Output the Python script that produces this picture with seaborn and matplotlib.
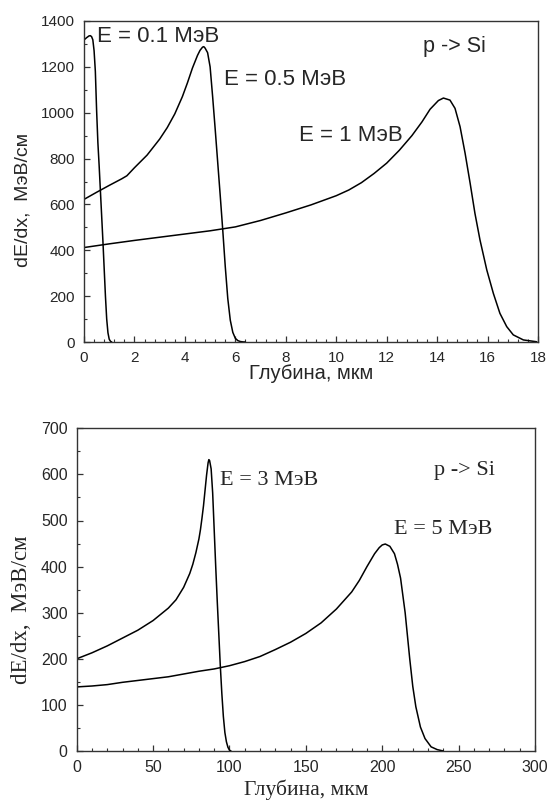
import numpy as np
import pandas as pd
import seaborn as sns
import matplotlib.pyplot as plt
from matplotlib.ticker import MultipleLocator

# top panel: depth (um) vs stopping power (MeV/cm)
x_01 = [0, 0.05, 0.1, 0.15, 0.2, 0.25, 0.3, 0.35, 0.4, 0.45, 0.5, 0.55, 0.6, 0.65,
        0.7, 0.75, 0.8, 0.85, 0.9, 0.95, 1.0, 1.05, 1.1]
y_01 = [1318, 1322, 1327, 1331, 1335, 1336, 1332, 1318, 1270, 1180, 1010, 870, 770, 660,
        550, 440, 320, 200, 100, 40, 12, 3, 0]

x_05 = [0, 0.5, 1.0, 1.5, 1.7, 2.0, 2.5, 3.0, 3.3, 3.6, 3.9, 4.1, 4.3, 4.5, 4.6, 4.7,
        4.75, 4.8, 4.9, 5.0, 5.1, 5.2, 5.3, 5.4, 5.5, 5.6, 5.7, 5.8, 5.9, 6.0, 6.1, 6.2,
        6.3, 6.4]
y_05 = [622, 653, 683, 712, 725, 760, 815, 885, 935, 995, 1070, 1130, 1195, 1250, 1272,
        1286, 1288, 1282, 1262, 1200, 1070, 930, 785, 640, 490, 330, 190, 95, 42, 16, 6,
        2, 0.5, 0]

x_1 = [0, 1, 2, 3, 4, 5, 6, 7, 8, 9, 10, 10.5, 11, 11.5, 12, 12.5, 13, 13.4, 13.72,
       14.05, 14.25, 14.51, 14.71, 14.91, 15.11, 15.31, 15.5, 15.7, 15.97, 16.23, 16.49,
       16.76, 17.02, 17.42, 17.95]
y_1 = [412, 428, 443, 457, 471, 485, 502, 530, 563, 598, 638, 663, 695, 735, 780, 836,
       900, 960, 1015, 1053, 1064, 1055, 1019, 939, 823, 692, 561, 445, 314, 212, 125,
       67, 31, 9, 1]

# bottom panel
x_3 = [0, 10, 20, 30, 40, 50, 60, 65, 70, 72, 74, 76, 78, 80, 81, 82, 83, 84, 85, 86,
       86.5, 87, 88, 89, 90, 91, 92, 93, 94, 95, 96, 97, 98, 99, 100, 101]
y_3 = [200, 213, 228, 245, 262, 283, 310, 328, 355, 370, 385, 405, 430, 460, 480, 505,
       532, 565, 598, 625, 632, 630, 612, 560, 480, 400, 325, 255, 185, 125, 75, 40, 20,
       8, 2, 0]

x_5 = [0, 10, 20, 30, 40, 50, 60, 70, 80, 90, 100, 110, 120, 130, 140, 150, 160, 170,
       180, 185, 190, 195, 198, 200, 202, 205, 208, 210, 212, 215, 218, 220, 222, 225,
       228, 232, 236, 240]
y_5 = [139, 141, 144, 149, 153, 157, 161, 167, 173, 178, 185, 194, 205, 220, 236, 255,
       278, 308, 345, 370, 400, 428, 441, 447, 449, 444, 428, 405, 375, 300, 200, 140,
       96, 52, 27, 9, 3, 0]

top_labels = ["E = 0.1 МэВ", "E = 0.5 МэВ", "E = 1 МэВ"]
bottom_labels = ["E = 3 МэВ", "E = 5 МэВ"]

sns.set_style("ticks")
plt.rcParams['font.family'] = ['Liberation Sans', 'DejaVu Sans']
plt.rcParams['xtick.direction'] = 'in'
plt.rcParams['ytick.direction'] = 'in'

fig = plt.figure(figsize=(5.48, 8.07), dpi=100)
ax1 = fig.add_axes([84 / 548, (807 - 342) / 807, 454 / 548, 321 / 807])
ax2 = fig.add_axes([76.7 / 548, (807 - 751) / 807, 458.3 / 548, 322.7 / 807])

for xs, ys in [(x_01, y_01), (x_05, y_05), (x_1, y_1)]:
  sns.lineplot(x=xs, y=ys, ax=ax1, color='black', linewidth=1.1)
for xs, ys in [(x_3, y_3), (x_5, y_5)]:
  sns.lineplot(x=xs, y=ys, ax=ax2, color='black', linewidth=1.1)

serif = ['Liberation Serif', 'DejaVu Serif']

# top axes
ax1.set_xlim(0, 18)
ax1.set_ylim(0, 1400)
ax1.xaxis.set_major_locator(MultipleLocator(2))
ax1.xaxis.set_minor_locator(MultipleLocator(0.4))
ax1.yaxis.set_major_locator(MultipleLocator(200))
ax1.yaxis.set_minor_locator(MultipleLocator(100))
ax1.text(0.53, 1310, top_labels[0], fontsize=16)
ax1.text(5.55, 1121, top_labels[1], fontsize=16)
ax1.text(8.52, 878, top_labels[2], fontsize=16)
ax1.text(13.46, 1266, "p -> Si", fontsize=15.5)
ax1.set_xlabel("Глубина, мкм", fontsize=14.5, va='baseline')
ax1.xaxis.set_label_coords(0.5, -0.115)
ax1.set_ylabel("dE/dx,  МэВ/см", fontsize=14, va='center')
ax1.yaxis.set_label_coords(-0.134, 0.442)

# bottom axes
ax2.set_xlim(0, 300)
ax2.set_ylim(0, 700)
ax2.xaxis.set_major_locator(MultipleLocator(50))
ax2.xaxis.set_minor_locator(MultipleLocator(10))
ax2.yaxis.set_major_locator(MultipleLocator(100))
ax2.yaxis.set_minor_locator(MultipleLocator(50))
ax2.text(93.9, 578, bottom_labels[0], fontsize=16, family=serif)
ax2.text(207.9, 471.5, bottom_labels[1], fontsize=16, family=serif)
ax2.text(233.6, 597.7, "p -> Si", fontsize=16, family=serif)
ax2.set_xlabel("Глубина, мкм", fontsize=15.5, va='baseline', family=serif)
ax2.xaxis.set_label_coords(0.5, -0.136)
ax2.set_ylabel("dE/dx,  МэВ/см", fontsize=16.5, va='center', family=serif)
ax2.yaxis.set_label_coords(-0.1215, 0.437)

for ax, fs in [(ax1, 11), (ax2, 11.5)]:
  for side in ['top', 'right', 'left', 'bottom']:
    ax.spines[side].set_visible(True)
    ax.spines[side].set_color('#333333')
    ax.spines[side].set_linewidth(1.0)
  ax.tick_params(which='major', length=4.5, width=0.9, color='#333333',
                 labelsize=fs, pad=6.5, top=False, right=False)
  ax.tick_params(which='minor', length=2.5, width=0.8, color='#333333',
                 top=False, right=False)

fig.savefig("out.png", dpi=100)
